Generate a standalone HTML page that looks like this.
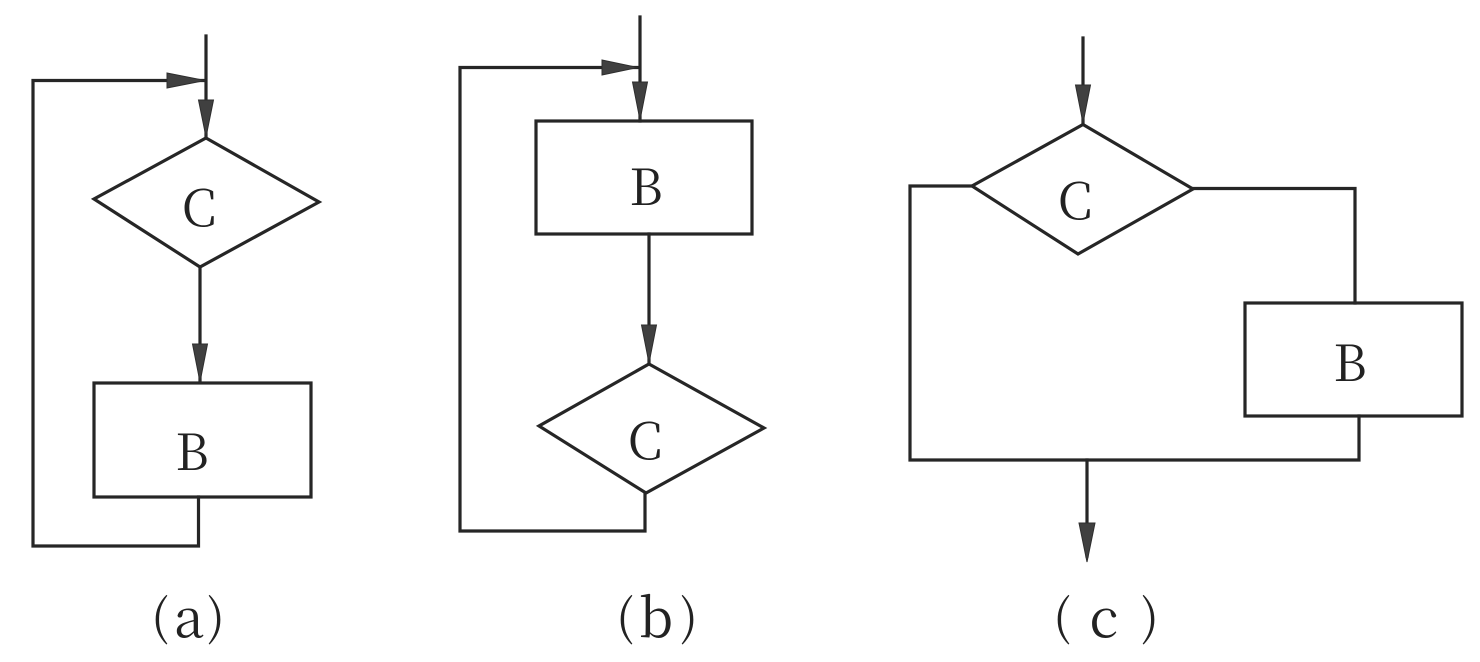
<!DOCTYPE html>
<html>
<head>
<meta charset="utf-8">
<style>
  html, body { margin: 0; padding: 0; background: #ffffff; }
  body { width: 1480px; height: 662px; overflow: hidden; }
  svg { display: block; }
  .t { font-family: "Noto Serif CJK SC", "Liberation Serif", "DejaVu Serif", serif; fill: #222222; }
</style>
</head>
<body>
<svg width="1480" height="662" viewBox="0 0 1480 662" xmlns="http://www.w3.org/2000/svg">
  <g fill="none" stroke="#262626" stroke-width="3.2" stroke-linejoin="miter" stroke-linecap="square">
    <!-- (a) -->
    <line x1="206" y1="36" x2="206" y2="138"/>
    <polyline points="198.5,497 198.5,546 33,546 33,80.5 204,80.5"/>
    <polygon points="206,138 319,202 200,267 94,199"/>
    <line x1="200" y1="267" x2="200" y2="382"/>
    <rect x="94" y="383" width="217" height="114"/>

    <!-- (b) -->
    <line x1="640" y1="17" x2="640" y2="121"/>
    <polyline points="645,493 645,531 460,531 460,67.5 638,67.5"/>
    <rect x="536" y="121" width="216" height="113"/>
    <line x1="649" y1="234" x2="649" y2="363"/>
    <polygon points="649,364 764,428 646,493 539,426"/>

    <!-- (c) -->
    <line x1="1083" y1="38" x2="1083" y2="124"/>
    <polygon points="1083,124.5 1193,189 1078,254 972,186"/>
    <polyline points="972,186 910,186 910,460 1359,460 1359,416"/>
    <polyline points="1193,188.5 1355,188.5 1355,303"/>
    <rect x="1245" y="303" width="217" height="113"/>
    <line x1="1087" y1="460" x2="1087" y2="556"/>
  </g>

  <!-- arrowheads -->
  <g fill="#404040" stroke="#2e2e2e" stroke-width="1">
    <polygon points="206,137 198.5,100 213.5,100"/>
    <polygon points="205,80.5 167,73 167,88"/>
    <polygon points="200,382 192.5,344 207.5,344"/>
    <polygon points="640,120 632.5,82 647.5,82"/>
    <polygon points="638,67.5 602,60 602,75"/>
    <polygon points="649,363 641.5,325 656.5,325"/>
    <polygon points="1083,123 1075.5,85 1090.5,85"/>
    <polygon points="1087,562 1079,523 1095,523"/>
  </g>

  <!-- node labels -->
  <g class="t" font-size="50" text-anchor="middle">
    <text x="199" y="226">C</text>
    <text x="192" y="470">B</text>
    <text x="646" y="205">B</text>
    <text x="645" y="459">C</text>
    <text x="1075" y="219">C</text>
    <text x="1350" y="381">B</text>
  </g>

  <!-- captions -->
  <g class="t" text-anchor="middle">
    <text x="160" y="634" font-size="48">(</text>
    <text x="189" y="637" font-size="54">a</text>
    <text x="216" y="634" font-size="48">)</text>

    <text x="625" y="634" font-size="48">(</text>
    <text x="656" y="637" font-size="54">b</text>
    <text x="689" y="634" font-size="48">)</text>

    <text x="1062" y="634" font-size="48">(</text>
    <text x="1104" y="637" font-size="54">c</text>
    <text x="1150" y="634" font-size="48">)</text>
  </g>
</svg>
</body>
</html>
